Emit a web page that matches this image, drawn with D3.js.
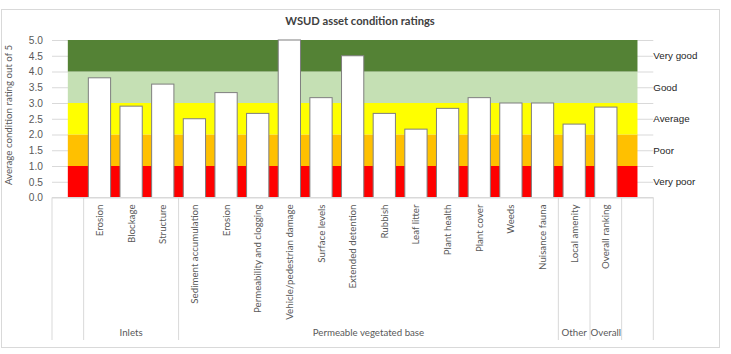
<!DOCTYPE html>
<html lang="en">
<head>
    <meta charset="UTF-8">
    <title>WSUD asset condition ratings</title>
    <script src="https://d3js.org/d3.v7.min.js"></script>
    <style>
        body { margin: 0; background: #fff; }
        svg { display: block; font-family: Lato, "Open Sans", sans-serif; }
    </style>
</head>
<body>
<svg id="chart"></svg>
<script>
    // data
    const categories = ["", "Erosion", "Blockage", "Structure", "Sediment accumulation", "Erosion",
        "Permeability and clogging", "Vehicle/pedestrian damage", "Surface levels", "Extended detention",
        "Rubbish", "Leaf litter", "Plant health", "Plant cover", "Weeds", "Nuisance fauna",
        "Local amenity", "Overall ranking", ""];
    const ratings = [null, 3.8, 2.9, 3.6, 2.5, 3.33, 2.67, 5.0, 3.17, 4.5, 2.67, 2.17, 2.83, 3.17,
        3.0, 3.0, 2.33, 2.87, null];
    const groupNames = ["", "Inlets", "Permeable vegetated base", "Other", "Overall", ""];
    const groupSizes = [1, 3, 12, 1, 1, 1];
    const bandNames = ["Very poor", "Poor", "Average", "Good", "Very good"];
    const bandColors = ["#ff0000", "#ffc000", "#ffff00", "#c5e0b4", "#548235"];
    const yTicks = d3.range(0, 5.01, 0.5);
    const bandMids = [0.5, 1.5, 2.5, 3.5, 4.5];

    const W = 731, H = 354;
    const plot = { left: 52, right: 653.3, top: 40, bottom: 197.5 };

    const svg = d3.select("#chart").attr("width", W).attr("height", H);

    svg.append("rect")
        .attr("x", 1.5).attr("y", 9.5).attr("width", 718).attr("height", 338)
        .attr("fill", "#fff").attr("stroke", "#d9d9d9");

    svg.append("text")
        .attr("x", 360).attr("y", 25)
        .attr("text-anchor", "middle")
        .attr("font-size", 11.2).attr("font-weight", "bold").attr("fill", "#404040")
        .text("WSUD asset condition ratings");

    const idx = categories.map((d, i) => i);
    const x = d3.scaleBand().domain(idx).range([plot.left, plot.right]).padding(0);
    const y = d3.scaleLinear().domain([0, 5]).range([plot.bottom, plot.top]);
    const bw = x.bandwidth();

    // gridlines
    svg.append("g")
        .attr("transform", "translate(" + plot.left + ",0)")
        .call(d3.axisLeft(y).tickValues(yTicks).tickSize(-(plot.right - plot.left)).tickFormat(""))
        .call(g => g.select(".domain").remove())
        .call(g => g.selectAll("line").attr("stroke", "#d9d9d9"));

    // condition bands (area from first to last category centre)
    const x0 = x(0) + bw / 2, x1 = x(categories.length - 1) + bw / 2;
    svg.append("g").selectAll("rect")
        .data(bandColors)
        .join("rect")
        .attr("x", x0)
        .attr("width", x1 - x0)
        .attr("y", (d, i) => y(i + 1))
        .attr("height", (d, i) => y(i) - y(i + 1))
        .attr("fill", d => d);

    // bars
    const barW = bw * 0.735;
    svg.append("g").selectAll("rect")
        .data(ratings.map((v, i) => ({ v, i })).filter(d => d.v !== null))
        .join("rect")
        .attr("x", d => x(d.i) + (bw - barW) / 2 + 0.5)
        .attr("width", barW - 1)
        .attr("y", d => y(d.v))
        .attr("height", d => y(0) - y(d.v))
        .attr("fill", "#fff")
        .attr("stroke", "#7f7f7f")
        .attr("stroke-width", 1);

    // left axis
    svg.append("g")
        .attr("transform", "translate(" + plot.left + ",0)")
        .call(d3.axisLeft(y).tickValues(yTicks).tickSize(0).tickPadding(9).tickFormat(d3.format(".1f")))
        .call(g => g.select(".domain").remove())
        .call(g => g.selectAll("text").attr("font-size", 10.2).attr("fill", "#595959").attr("font-family", null));

    svg.append("text")
        .attr("transform", "translate(12,115) rotate(-90)")
        .attr("text-anchor", "middle")
        .attr("font-size", 9.7).attr("fill", "#595959")
        .text("Average condition rating out of 5");

    // right labels
    svg.append("g")
        .attr("transform", "translate(" + plot.right + ",0)")
        .call(d3.axisRight(y).tickValues(bandMids).tickSize(0).tickPadding(0).tickFormat((d, i) => bandNames[i]))
        .call(g => g.select(".domain").remove())
        .call(g => g.selectAll("text").attr("font-size", 9.8).attr("fill", "#262626").attr("font-family", null));

    // category axis
    svg.append("line")
        .attr("x1", plot.left).attr("x2", plot.right).attr("y1", plot.bottom).attr("y2", plot.bottom)
        .attr("stroke", "#d9d9d9");

    svg.append("g").selectAll("text")
        .data(categories)
        .join("text")
        .attr("transform", (d, i) => "translate(" + (x(i) + bw / 2 + 3.5) + "," + (plot.bottom + 7) + ") rotate(-90)")
        .attr("text-anchor", "end")
        .attr("font-size", 9.7).attr("fill", "#595959")
        .text(d => d);

    const bounds = [0];
    groupSizes.forEach(n => bounds.push(bounds[bounds.length - 1] + n));
    svg.append("g").selectAll("line")
        .data(bounds)
        .join("line")
        .attr("x1", d => plot.left + d * bw).attr("x2", d => plot.left + d * bw)
        .attr("y1", plot.bottom).attr("y2", 340)
        .attr("stroke", "#d9d9d9");

    svg.append("g").selectAll("text")
        .data(groupNames)
        .join("text")
        .attr("x", (d, i) => plot.left + (bounds[i] + bounds[i + 1]) / 2 * bw)
        .attr("y", 336)
        .attr("text-anchor", "middle")
        .attr("font-size", 9.7).attr("fill", "#595959")
        .text(d => d);
</script>
</body>
</html>
